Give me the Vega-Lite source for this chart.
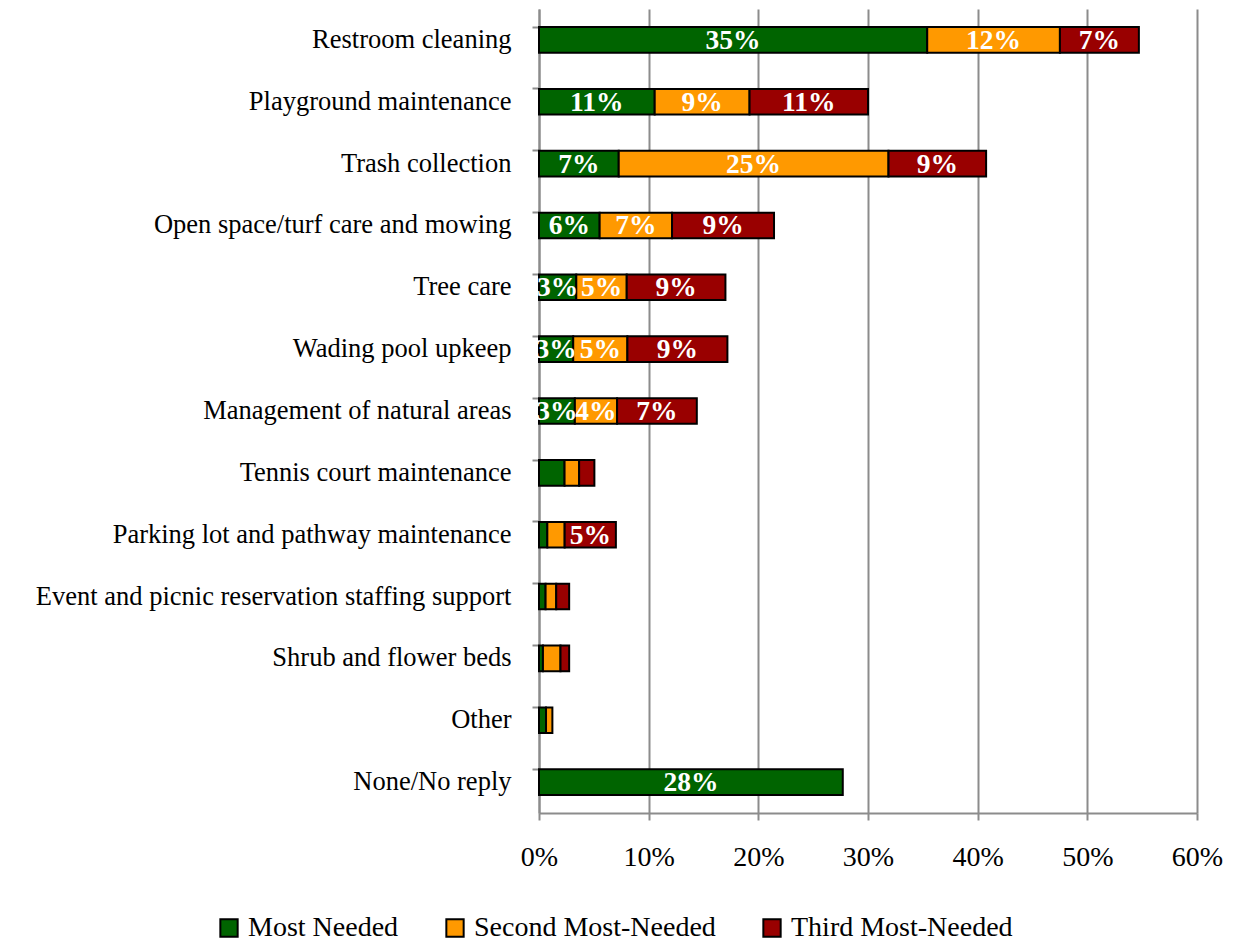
{
  "$schema": "https://vega.github.io/schema/vega-lite/v6.json",
  "width": 658,
  "height": 804,
  "autosize": {"type": "none"},
  "padding": {"left": 539, "top": 9, "right": 42, "bottom": 130},
  "background": "white",
  "config": {
    "view": {"stroke": null},
    "font": "Liberation Serif"
  },
  "data": {
    "values": [
      {"category": "Restroom cleaning", "series": "Most Needed", "value": 0.354},
      {"category": "Restroom cleaning", "series": "Second Most-Needed", "value": 0.121},
      {"category": "Restroom cleaning", "series": "Third Most-Needed", "value": 0.072},
      {"category": "Playground maintenance", "series": "Most Needed", "value": 0.1055},
      {"category": "Playground maintenance", "series": "Second Most-Needed", "value": 0.0865},
      {"category": "Playground maintenance", "series": "Third Most-Needed", "value": 0.108},
      {"category": "Trash collection", "series": "Most Needed", "value": 0.0727},
      {"category": "Trash collection", "series": "Second Most-Needed", "value": 0.246},
      {"category": "Trash collection", "series": "Third Most-Needed", "value": 0.089},
      {"category": "Open space/turf care and mowing", "series": "Most Needed", "value": 0.0553},
      {"category": "Open space/turf care and mowing", "series": "Second Most-Needed", "value": 0.066},
      {"category": "Open space/turf care and mowing", "series": "Third Most-Needed", "value": 0.093},
      {"category": "Tree care", "series": "Most Needed", "value": 0.034},
      {"category": "Tree care", "series": "Second Most-Needed", "value": 0.046},
      {"category": "Tree care", "series": "Third Most-Needed", "value": 0.09},
      {"category": "Wading pool upkeep", "series": "Most Needed", "value": 0.0312},
      {"category": "Wading pool upkeep", "series": "Second Most-Needed", "value": 0.0494},
      {"category": "Wading pool upkeep", "series": "Third Most-Needed", "value": 0.0912},
      {"category": "Management of natural areas", "series": "Most Needed", "value": 0.0327},
      {"category": "Management of natural areas", "series": "Second Most-Needed", "value": 0.0385},
      {"category": "Management of natural areas", "series": "Third Most-Needed", "value": 0.0727},
      {"category": "Tennis court maintenance", "series": "Most Needed", "value": 0.0233},
      {"category": "Tennis court maintenance", "series": "Second Most-Needed", "value": 0.0133},
      {"category": "Tennis court maintenance", "series": "Third Most-Needed", "value": 0.0139},
      {"category": "Parking lot and pathway maintenance", "series": "Most Needed", "value": 0.0076},
      {"category": "Parking lot and pathway maintenance", "series": "Second Most-Needed", "value": 0.0158},
      {"category": "Parking lot and pathway maintenance", "series": "Third Most-Needed", "value": 0.0467},
      {"category": "Event and picnic reservation staffing support", "series": "Most Needed", "value": 0.006},
      {"category": "Event and picnic reservation staffing support", "series": "Second Most-Needed", "value": 0.0097},
      {"category": "Event and picnic reservation staffing support", "series": "Third Most-Needed", "value": 0.0118},
      {"category": "Shrub and flower beds", "series": "Most Needed", "value": 0.0036},
      {"category": "Shrub and flower beds", "series": "Second Most-Needed", "value": 0.016},
      {"category": "Shrub and flower beds", "series": "Third Most-Needed", "value": 0.0079},
      {"category": "Other", "series": "Most Needed", "value": 0.0064},
      {"category": "Other", "series": "Second Most-Needed", "value": 0.0058},
      {"category": "None/No reply", "series": "Most Needed", "value": 0.277}
    ]
  },
  "transform": [
    {"stack": "value", "groupby": ["category"], "sort": [{"field": "series", "order": "ascending"}], "as": ["v0", "v1"]}
  ],
  "encoding": {
    "y": {
      "field": "category",
      "type": "nominal",
      "sort": ["Restroom cleaning", "Playground maintenance", "Trash collection", "Open space/turf care and mowing", "Tree care", "Wading pool upkeep", "Management of natural areas", "Tennis court maintenance", "Parking lot and pathway maintenance", "Event and picnic reservation staffing support", "Shrub and flower beds", "Other", "None/No reply"],
      "scale": {"paddingInner": 0.586, "paddingOuter": 0.293},
      "axis": {
        "title": null,
        "bandPosition": 0,
        "domainColor": "#8c8c8c",
        "domainWidth": 2,
        "tickColor": "#8c8c8c",
        "tickWidth": 2,
        "tickSize": 7,
        "labelFont": "Liberation Serif",
        "labelFontSize": 26.5,
        "labelColor": "black",
        "labelPadding": 21,
        "labelLimit": 600,
        "grid": false
      }
    }
  },
  "layer": [
    {
      "mark": {"type": "bar", "stroke": "black", "strokeWidth": 2},
      "encoding": {
        "x": {
          "field": "v0",
          "type": "quantitative",
          "scale": {"domain": [0, 0.6], "nice": false},
          "axis": {
            "title": null,
            "format": ".0%",
            "values": [0, 0.1, 0.2, 0.3, 0.4, 0.5, 0.6],
            "grid": true,
            "gridColor": "#8c8c8c",
            "gridWidth": 2,
            "domainColor": "#8c8c8c",
            "domainWidth": 2,
            "tickColor": "#8c8c8c",
            "tickWidth": 2,
            "tickSize": 7,
            "labelFont": "Liberation Serif",
            "labelFontSize": 28,
            "labelColor": "black",
            "labelPadding": 23,
            "labelFlush": false,
            "labelOverlap": false
          }
        },
        "x2": {"field": "v1"},
        "fill": {
          "field": "series",
          "type": "nominal",
          "scale": {
            "domain": ["Most Needed", "Second Most-Needed", "Third Most-Needed"],
            "range": ["#006400", "#FF9900", "#990000"]
          },
          "legend": {
            "title": null,
            "orient": "none",
            "legendX": -324,
            "legendY": 905,
            "direction": "horizontal",
            "symbolType": "square",
            "symbolSize": 300,
            "symbolStrokeColor": "black",
            "symbolStrokeWidth": 2,
            "labelFont": "Liberation Serif",
            "labelFontSize": 28,
            "labelColor": "black",
            "labelOffset": 5,
            "labelLimit": 500,
            "columnPadding": 42,
            "padding": 0
          }
        }
      }
    },
    {
      "transform": [
        {"filter": "datum.value >= 0.03"},
        {"calculate": "(datum.v0 + datum.v1) / 2", "as": "mid"}
      ],
      "mark": {"type": "text", "color": "white", "fontWeight": "bold", "font": "Liberation Serif", "fontSize": 27.5, "align": "center", "baseline": "middle", "dy": 1},
      "encoding": {
        "x": {"field": "mid", "type": "quantitative"},
        "text": {"field": "value", "type": "quantitative", "format": ".0%"}
      }
    }
  ]
}
